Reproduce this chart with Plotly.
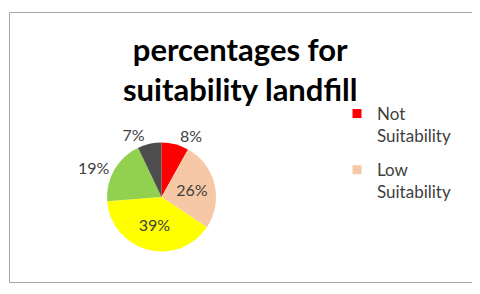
import plotly.graph_objects as go

labels = ["Not Suitability", "Low Suitability", "Moderate Suitability", "High Suitability", "Very High Suitability"]
values = [8, 26, 39, 19, 7]
colors = ["#FF0000", "#F6C8A6", "#FFFF00", "#92D050", "#4D4D4D"]
text_positions = ["outside", "inside", "inside", "outside", "outside"]
legend_labels = ["Not<br>Suitability", "Low<br>Suitability"]

# page has an 8px body margin; figure fills the rest of the 480x294 window
OFF = 8
W, H = 480 - OFF, 294 - OFF


def px(x):
    return (x - OFF) / W


def py(y):
    return 1 - (y - OFF) / H


cx, cy, r = 161.5, 197, 54.5

fig = go.Figure()
fig.add_trace(go.Pie(
    labels=labels, values=values, sort=False, direction="clockwise", rotation=0,
    marker=dict(colors=colors, line=dict(width=0)),
    texttemplate="%{value}%", textposition=text_positions,
    textfont=dict(family="Lato", size=16, color="#404040"),
    insidetextorientation="horizontal",
    showlegend=False, hoverinfo="label+percent",
    domain=dict(x=[px(cx - r), px(cx + r)], y=[py(cy + r), py(cy - r)]),
))
for i, lab in enumerate(legend_labels):
    fig.add_trace(go.Scatter(
        x=[None], y=[None], mode="markers", name=lab, legendgroup=f"g{i}",
        marker=dict(symbol="square", size=9, color=colors[i]),
    ))

fig.add_shape(type="rect", xref="paper", yref="paper",
              x0=px(9.5), x1=px(472.5), y0=py(282.5), y1=py(12.5),
              line=dict(color="#A6A6A6", width=1))
fig.add_annotation(text="<b>percentages for<br>suitability landfill</b>",
                   xref="paper", yref="paper", x=px(240), y=py(69),
                   xanchor="center", yanchor="middle", showarrow=False,
                   font=dict(family="Lato", size=31, color="#000000"))

fig.update_layout(
    width=W, height=H, margin=dict(l=0, r=0, t=0, b=0),
    paper_bgcolor="white", plot_bgcolor="white",
    xaxis=dict(visible=False), yaxis=dict(visible=False),
    legend=dict(x=px(337), y=py(96), xanchor="left", yanchor="top",
                font=dict(family="Lato", size=17, color="#404040"),
                tracegroupgap=9, valign="top", bgcolor="rgba(0,0,0,0)"),
)
fig.write_html("out.html")
